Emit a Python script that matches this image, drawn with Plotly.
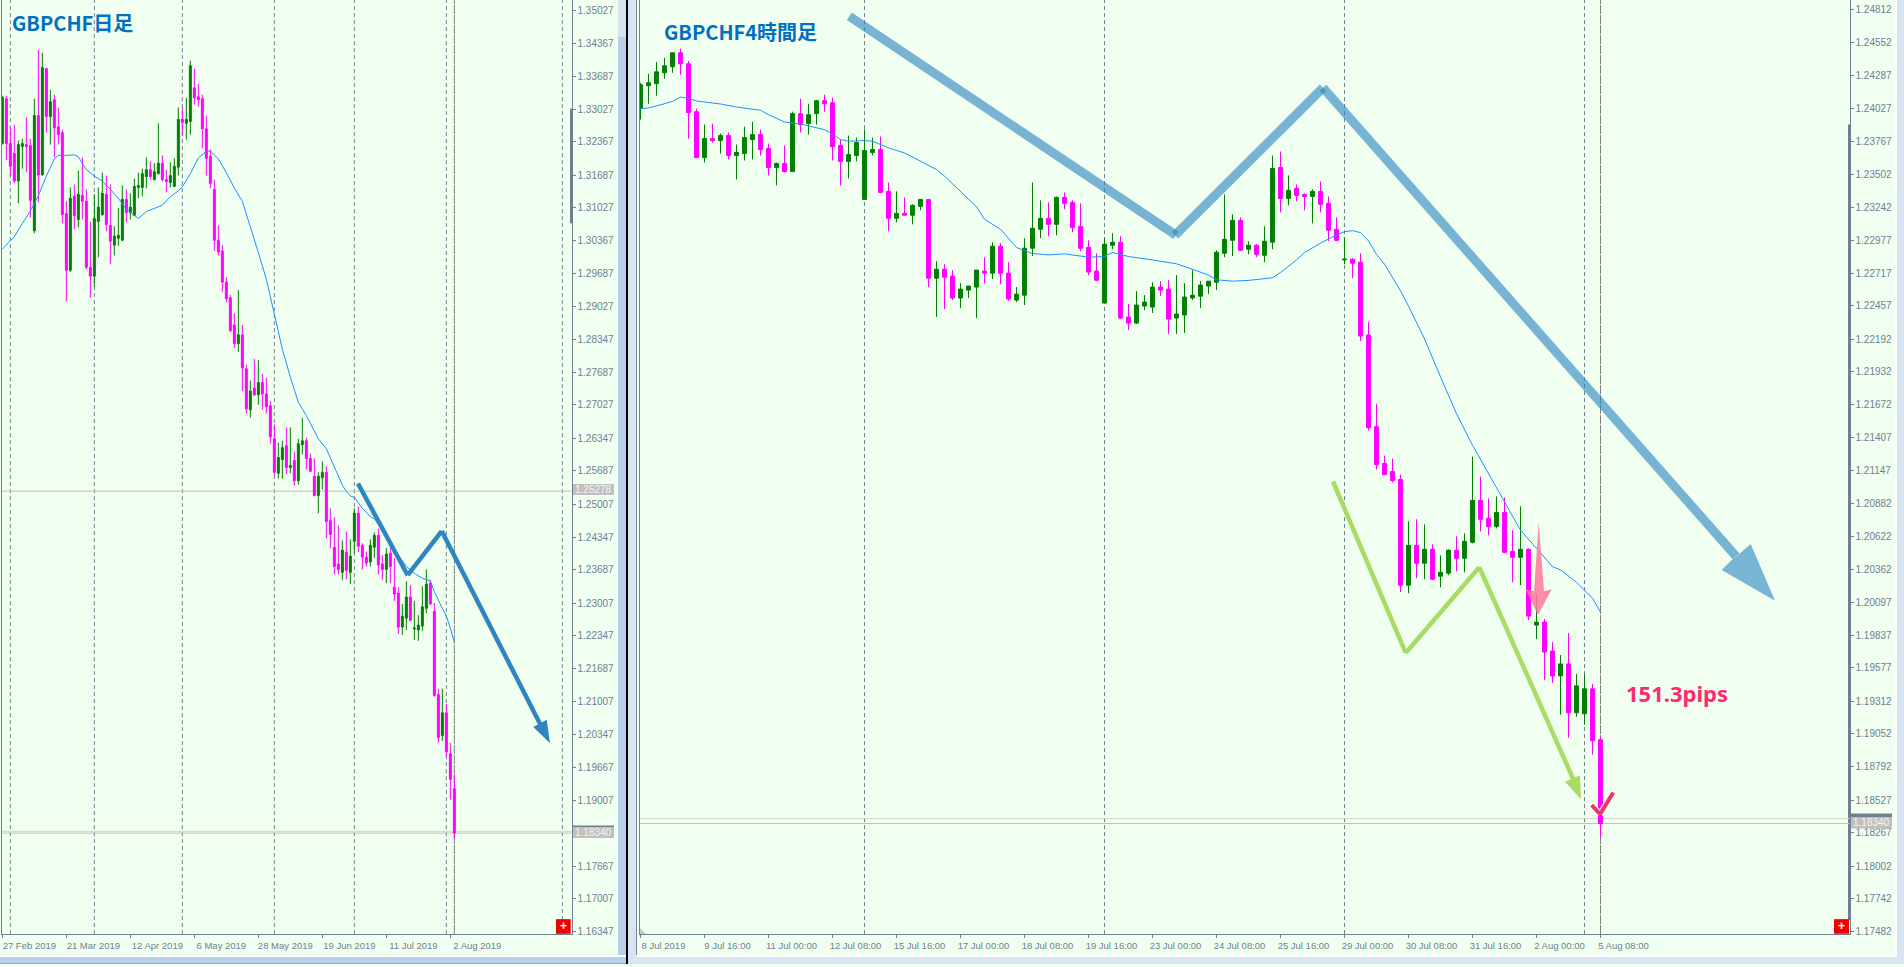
import plotly.graph_objects as go

# ---------- daily GBPCHF ----------
day_labels = ["27 Feb 2019","21 Mar 2019","12 Apr 2019","6 May 2019","28 May 2019","19 Jun 2019","11 Jul 2019","2 Aug 2019"]
day_price_ticks = [1.35027,1.34367,1.33687,1.33027,1.32367,1.31687,1.31027,1.30367,1.29687,1.29027,1.28347,1.27687,1.27027,1.26347,1.25687,1.25007,1.24347,1.23687,1.23007,1.22347,1.21687,1.21007,1.20347,1.19667,1.19007,1.18347,1.17667,1.17007,1.16347]
day_high = [1.3330,1.3330,1.3265,1.3271,1.3239,1.3243,1.3286,1.3243,1.3324,1.3423,
1.3417,1.3387,1.3342,1.3332,1.3306,1.3261,1.3116,1.3144,1.3150,1.3178,
1.3205,1.3140,1.3075,1.3130,1.3144,1.3174,1.3168,1.3150,1.3065,1.3102,
1.3148,1.3140,1.3132,1.3162,1.3174,1.3182,1.3205,1.3197,1.3193,1.3274,
1.3209,1.3180,1.3195,1.3203,1.3306,1.3306,1.3326,1.3401,1.3385,1.3354,
1.3332,1.3290,1.3221,1.3160,1.3067,1.3027,1.2962,1.2926,1.2889,1.2936,
1.2865,1.2784,1.2752,1.2796,1.2794,1.2766,1.2758,1.2711,1.2663,1.2626,
1.2630,1.2657,1.2657,1.2608,1.2634,1.2677,1.2636,1.2604,1.2594,1.2566,
1.2588,1.2578,1.2493,1.2475,1.2458,1.2428,1.2446,1.2430,1.2493,1.2497,
1.2422,1.2405,1.2430,1.2444,1.2452,1.2398,1.2412,1.2412,1.2392,1.2333,
1.2299,1.2345,1.2337,1.2305,1.2276,1.2335,1.2369,1.2347,1.2301,1.2127,
1.2127,1.2096,1.2017,1.1953]
day_low = [1.3231,1.3199,1.3167,1.3153,1.3112,1.3182,1.3175,1.3083,1.3051,1.3114,
1.3167,1.3255,1.3231,1.3205,1.3231,1.3071,1.2913,1.2972,1.3059,1.3063,
1.3079,1.2978,1.2920,1.2942,1.3002,1.3086,1.3055,1.2988,1.3006,1.3025,
1.3035,1.3073,1.3079,1.3086,1.3122,1.3126,1.3142,1.3160,1.3158,1.3170,
1.3156,1.3134,1.3144,1.3145,1.3168,1.3251,1.3241,1.3251,1.3312,1.3308,
1.3223,1.3168,1.3142,1.3015,1.3006,1.2932,1.2911,1.2851,1.2818,1.2810,
1.2731,1.2685,1.2677,1.2721,1.2703,1.2693,1.2685,1.2624,1.2558,1.2553,
1.2553,1.2562,1.2564,1.2539,1.2541,1.2602,1.2572,1.2566,1.2517,1.2483,
1.2531,1.2432,1.2412,1.2359,1.2359,1.2347,1.2349,1.2339,1.2402,1.2404,
1.2369,1.2375,1.2375,1.2392,1.2359,1.2347,1.2341,1.2341,1.2305,1.2238,
1.2236,1.2246,1.2264,1.2226,1.2224,1.2244,1.2280,1.2297,1.2111,1.2017,
1.2021,1.1989,1.1902,1.1823]
day_open = [1.3233,1.3324,1.3233,1.3213,1.3157,1.3227,1.3231,1.3229,1.3056,1.3290,
1.3170,1.3385,1.3288,1.3322,1.3267,1.3255,1.3091,1.2976,1.3126,1.3079,
1.3128,1.3116,1.2982,1.2964,1.3075,1.3089,1.3130,1.3067,1.3027,1.3041,
1.3037,1.3120,1.3093,1.3087,1.3144,1.3144,1.3166,1.3180,1.3160,1.3172,
1.3193,1.3160,1.3154,1.3146,1.3185,1.3282,1.3274,1.3278,1.3346,1.3328,
1.3324,1.3263,1.3207,1.3140,1.3037,1.3015,1.2952,1.2920,1.2865,1.2827,
1.2845,1.2776,1.2693,1.2737,1.2723,1.2748,1.2725,1.2701,1.2634,1.2564,
1.2592,1.2620,1.2576,1.2590,1.2549,1.2622,1.2630,1.2594,1.2558,1.2519,
1.2555,1.2566,1.2468,1.2414,1.2380,1.2363,1.2404,1.2363,1.2426,1.2483,
1.2418,1.2394,1.2384,1.2414,1.2438,1.2380,1.2369,1.2402,1.2333,1.2321,
1.2252,1.2270,1.2313,1.2248,1.2246,1.2254,1.2290,1.2341,1.2284,1.2115,
1.2032,1.2078,1.1995,1.1924]
day_close = [1.3327,1.3233,1.3187,1.3157,1.3231,1.3233,1.3227,1.3118,1.3290,1.3169,
1.3387,1.3288,1.3318,1.3265,1.3251,1.3089,1.2976,1.3122,1.3087,1.3130,
1.3116,1.2982,1.2964,1.3081,1.3104,1.3132,1.3069,1.3035,1.3045,1.3047,
1.3120,1.3093,1.3104,1.3146,1.3148,1.3172,1.3180,1.3166,1.3176,1.3193,
1.3160,1.3156,1.3168,1.3187,1.3282,1.3276,1.3282,1.3391,1.3326,1.3322,
1.3263,1.3203,1.3152,1.3037,1.3013,1.2952,1.2918,1.2853,1.2827,1.2845,
1.2778,1.2695,1.2731,1.2723,1.2748,1.2725,1.2699,1.2638,1.2566,1.2596,
1.2616,1.2576,1.2580,1.2549,1.2624,1.2630,1.2594,1.2568,1.2519,1.2558,
1.2566,1.2466,1.2440,1.2375,1.2369,1.2408,1.2367,1.2396,1.2483,1.2416,
1.2394,1.2382,1.2418,1.2438,1.2378,1.2369,1.2400,1.2375,1.2319,1.2252,
1.2274,1.2313,1.2266,1.2250,1.2256,1.2293,1.2339,1.2299,1.2113,1.2028,
1.2078,1.1999,1.1943,1.1834]
day_ma_bar = [0,3,5,7,9,11,13,14,16,18,19,21,23,25,27,29,31,33,34,36,38,40,42,44,45,47,49,51,52,54,56,58,60,62,64,66,68,70,72,74,76,78,79,81,84,85,86,87,88,90,92,93,95,97,99,101,103,105,107,108,110,111,112,113]
day_ma = [1.3019,1.3044,1.3071,1.3096,1.3127,1.3167,1.3202,1.3209,1.3209,1.3210,1.3206,1.3180,1.3167,1.3157,1.3140,1.3122,1.3100,1.3086,1.3081,1.3095,1.3101,1.3108,1.3125,1.3137,1.3145,1.3172,1.3204,1.3217,1.3218,1.3202,1.3174,1.3143,1.3116,1.3066,1.3012,1.2958,1.2884,1.2816,1.2759,1.2708,1.2681,1.2651,1.2634,1.2614,1.2557,1.2540,1.2527,1.2518,1.2515,1.2493,1.2476,1.2472,1.2449,1.2422,1.2398,1.2375,1.2361,1.2351,1.2346,1.2324,1.2290,1.2274,1.2250,1.2221]
day_period_bars = [2,23,45,68,88,111,140]

# ---------- 4-hour GBPCHF ----------
h4_labels = ["8 Jul 2019","9 Jul 16:00","11 Jul 00:00","12 Jul 08:00","15 Jul 16:00","17 Jul 00:00","18 Jul 08:00","19 Jul 16:00","23 Jul 00:00","24 Jul 08:00","25 Jul 16:00","29 Jul 00:00","30 Jul 08:00","31 Jul 16:00","2 Aug 00:00","5 Aug 08:00"]
h4_price_ticks = [1.24812,1.24552,1.24287,1.24027,1.23767,1.23502,1.23242,1.22977,1.22717,1.22457,1.22192,1.21932,1.21672,1.21407,1.21147,1.20882,1.20622,1.20362,1.20097,1.19837,1.19577,1.19312,1.19052,1.18792,1.18527,1.18267,1.18002,1.17742,1.17482]
h4_high = [1.24231,1.24302,1.24397,1.24429,1.24469,1.24501,1.24405,1.24025,1.23898,1.23906,
1.23827,1.23835,1.23739,1.23882,1.23922,1.23858,1.23747,1.23597,1.23732,1.24001,
1.24104,1.24064,1.24096,1.24136,1.24112,1.23779,1.23811,1.23795,1.23858,1.23795,
1.23803,1.23438,1.23367,1.23319,1.23264,1.23303,1.23303,1.22812,1.22788,1.22741,
1.22637,1.22614,1.22741,1.22844,1.22963,1.22955,1.22804,1.22606,1.22994,1.23438,
1.23296,1.23280,1.23327,1.23359,1.23296,1.23272,1.22978,1.22875,1.23002,1.23034,
1.23010,1.22471,1.22574,1.22542,1.22645,1.22653,1.22661,1.22701,1.22637,1.22741,
1.22653,1.22653,1.22899,1.23343,1.23185,1.23161,1.22971,1.22947,1.23089,1.23652,
1.23684,1.23494,1.23422,1.23351,1.23383,1.23446,1.23327,1.23161,1.23002,1.22836,
1.22875,1.22328,1.21678,1.21266,1.21242,1.21115,1.20743,1.20759,1.20719,1.20560,
1.20473,1.20521,1.20624,1.20648,1.21258,1.21099,1.20925,1.20941,1.20933,1.20671,
1.20862,1.20529,1.20164,1.19966,1.19783,1.19680,1.19855,1.19530,1.19527,1.19450,
1.19030]
h4_low = [1.23938,1.24064,1.24128,1.24263,1.24310,1.24294,1.23787,1.23631,1.23597,1.23755,
1.23668,1.23621,1.23462,1.23613,1.23621,1.23652,1.23494,1.23414,1.23517,1.23520,
1.23835,1.23819,1.23898,1.24001,1.23613,1.23414,1.23470,1.23605,1.23303,1.23652,
1.23351,1.23050,1.23121,1.23175,1.23105,1.23216,1.22606,1.22368,1.22431,1.22503,
1.22439,1.22519,1.22360,1.22637,1.22669,1.22630,1.22495,1.22487,1.22463,1.22852,
1.22994,1.23010,1.23018,1.23224,1.23042,1.22891,1.22701,1.22653,1.22479,1.22907,
1.22352,1.22265,1.22312,1.22423,1.22400,1.22534,1.22233,1.22233,1.22241,1.22503,
1.22439,1.22550,1.22582,1.22844,1.22852,1.22891,1.22867,1.22844,1.22804,1.22907,
1.23200,1.23256,1.23288,1.23216,1.23113,1.23200,1.22971,1.22971,1.22788,1.22677,
1.22178,1.21464,1.21155,1.21115,1.21052,1.20180,1.20172,1.20291,1.20283,1.20275,
1.20219,1.20315,1.20346,1.20338,1.20568,1.20663,1.20632,1.20687,1.20489,1.20259,
1.20235,1.19958,1.19807,1.19482,1.19458,1.19205,1.19022,1.19189,1.19125,1.18888,
1.18230]
h4_open = [1.24025,1.24207,1.24223,1.24310,1.24358,1.24469,1.24382,1.24001,1.23636,1.23787,
1.23771,1.23811,1.23652,1.23668,1.23779,1.23819,1.23708,1.23557,1.23589,1.23525,
1.23985,1.23906,1.23985,1.24088,1.24072,1.23732,1.23605,1.23652,1.23303,1.23676,
1.23700,1.23367,1.23153,1.23192,1.23177,1.23248,1.23303,1.22677,1.22748,1.22693,
1.22519,1.22582,1.22606,1.22733,1.22717,1.22931,1.22717,1.22503,1.22542,1.22915,
1.23066,1.23153,1.23105,1.23319,1.23280,1.23089,1.22923,1.22733,1.22479,1.22939,
1.22963,1.22368,1.22320,1.22455,1.22447,1.22606,1.22590,1.22360,1.22384,1.22519,
1.22534,1.22614,1.22645,1.22875,1.22978,1.23137,1.22907,1.22939,1.22859,1.22963,
1.23557,1.23311,1.23391,1.23343,1.23327,1.23367,1.23272,1.23066,1.22822,1.22828,
1.22804,1.22225,1.21496,1.21203,1.21139,1.21076,1.20235,1.20552,1.20410,1.20521,
1.20307,1.20331,1.20513,1.20449,1.20576,1.20909,1.20767,1.20703,1.20814,1.20505,
1.20457,1.20521,1.19918,1.19942,1.19712,1.19514,1.19609,1.19221,1.19213,1.19411,
1.19006]
h4_close = [1.24215,1.24231,1.24318,1.24366,1.24469,1.24382,1.23993,1.23636,1.23787,1.23771,
1.23811,1.23652,1.23676,1.23795,1.23819,1.23700,1.23557,1.23589,1.23525,1.23985,
1.23898,1.23977,1.24088,1.24064,1.23724,1.23605,1.23660,1.23755,1.23692,1.23700,
1.23359,1.23153,1.23192,1.23177,1.23256,1.23303,1.22677,1.22748,1.22685,1.22519,
1.22590,1.22614,1.22741,1.22717,1.22931,1.22717,1.22511,1.22550,1.22915,1.23074,
1.23153,1.23105,1.23319,1.23272,1.23081,1.22915,1.22725,1.22661,1.22947,1.22963,
1.22360,1.22320,1.22463,1.22487,1.22606,1.22582,1.22352,1.22392,1.22527,1.22542,
1.22622,1.22653,1.22883,1.22986,1.23137,1.22899,1.22939,1.22867,1.22971,1.23549,
1.23311,1.23375,1.23335,1.23327,1.23367,1.23264,1.23058,1.22978,1.22828,1.22796,
1.22217,1.21488,1.21195,1.21115,1.21068,1.20235,1.20552,1.20410,1.20521,1.20283,
1.20338,1.20513,1.20449,1.20584,1.20909,1.20759,1.20703,1.20814,1.20497,1.20457,
1.20521,1.19990,1.19942,1.19704,1.19514,1.19609,1.19221,1.19435,1.19411,1.18999,
1.18340]
h4_ma_bar = [0,1,3,4,5,6,7,10,12,15,16,18,20,23,24,25,26,28,29,31,33,35,37,38,40,42,43,45,47,49,51,53,56,58,59,61,64,67,69,71,72,74,76,79,80,82,83,85,87,88,89,90,91,92,93,94,95,96,98,100,102,104,106,108,110,112,114,115,117,119,120]
h4_ma = [1.24025,1.24030,1.24064,1.24083,1.24117,1.24107,1.24086,1.24062,1.24038,1.24012,1.23977,1.23919,1.23903,1.23858,1.23824,1.23779,1.23766,1.23771,1.23766,1.23713,1.23673,1.23607,1.23541,1.23488,1.23369,1.23245,1.23145,1.23066,1.22920,1.22873,1.22862,1.22870,1.22844,1.22849,1.22881,1.22849,1.22822,1.22791,1.22748,1.22701,1.22664,1.22653,1.22659,1.22680,1.22722,1.22822,1.22881,1.22955,1.23021,1.23047,1.23055,1.23039,1.22973,1.22867,1.22788,1.22682,1.22577,1.22455,1.22194,1.21892,1.21599,1.21348,1.21123,1.20899,1.20674,1.20529,1.20383,1.20357,1.20259,1.20132,1.20021]
h4_period_bars = [28,58,88,118,151]

UP, DOWN, MA_COL = "#037f03", "#ff00ff", "#1e90ff"
AXIS = "#708090"
W, H = 1904, 967
def X(p): return p / W
def Y(p): return 1 - p / H

fig = go.Figure()
def candles(xa, ya, o, h, l, c):
    fig.add_trace(go.Candlestick(x=list(range(len(o))), open=o, high=h, low=l, close=c, xaxis=xa, yaxis=ya,
        increasing=dict(line=dict(color=UP, width=1), fillcolor=UP),
        decreasing=dict(line=dict(color=DOWN, width=1), fillcolor=DOWN), showlegend=False))
candles("x", "y", day_open, day_high, day_low, day_close)
candles("x2", "y2", h4_open, h4_high, h4_low, h4_close)
fig.add_trace(go.Scatter(x=day_ma_bar, y=day_ma, mode="lines", line=dict(color=MA_COL, width=1), xaxis="x", yaxis="y", showlegend=False))
fig.add_trace(go.Scatter(x=h4_ma_bar, y=h4_ma, mode="lines", line=dict(color=MA_COL, width=1), xaxis="x2", yaxis="y2", showlegend=False))

shapes = []
def rect(x0, y0, x1, y1, color, layer="below"):
    shapes.append(dict(type="rect", xref="paper", yref="paper", x0=X(x0), x1=X(x1), y0=Y(y0), y1=Y(y1),
                       fillcolor=color, line=dict(width=0), layer=layer))
def seg(x0, y0, x1, y1, color, width, opacity=1.0):
    shapes.append(dict(type="line", xref="paper", yref="paper", x0=X(x0), x1=X(x1), y0=Y(y0), y1=Y(y1),
                       line=dict(color=color, width=width), opacity=opacity, layer="above"))
def poly(points, color, opacity=1.0):
    path = "M " + " L ".join(f"{X(a):.6f},{Y(b):.6f}" for a, b in points) + " Z"
    shapes.append(dict(type="path", xref="paper", yref="paper", path=path, fillcolor=color,
                       line=dict(width=0), opacity=opacity, layer="above"))

# window chrome
rect(618, 0, 626, 958, "#b8d0ea")
rect(618, 0, 626, 37, "#d8e4f1")
rect(626, 0, 628, 967, "#000000")
rect(628, 0, 636, 967, "#d8e4f1")
rect(636, 0, 637, 958, "#7d8a96")
rect(0, 958, 626, 960, "#ffffff")
rect(0, 960, 626, 966, "#b8d0ea")
rect(0, 966, 626, 967, "#30d0e0")
rect(637, 958, 1897, 960, "#ffffff")
rect(628, 960, 1904, 967, "#d8e4f1")
rect(1895, 0, 1897, 960, "#ffffff")
rect(1897, 0, 1904, 967, "#d8e4f1")

# chart scroll markers and corner marks
rect(570, 109, 573, 224, AXIS)
rect(1848, 125, 1851, 923, AXIS)
poly([(640, 931), (640, 937), (646, 937)], "#c8c8d0")

# period separators
for bar in day_period_bars:
    shapes.append(dict(type="line", xref="x", yref="y domain", x0=bar, x1=bar, y0=0, y1=1, layer="below",
                       line=dict(color=AXIS, width=1, dash="4px,3px")))
for bar in h4_period_bars[:-1]:
    shapes.append(dict(type="line", xref="x2", yref="y2 domain", x0=bar, x1=bar, y0=0, y1=1, layer="below",
                       line=dict(color=AXIS, width=1, dash="4px,3px")))
shapes.append(dict(type="line", xref="x", yref="y domain", x0=113, x1=113, y0=0, y1=1, layer="below",
                   line=dict(color="#808080", width=1, dash="9px,1px")))
shapes.append(dict(type="line", xref="x2", yref="y2 domain", x0=120, x1=120, y0=0, y1=1, layer="below",
                   line=dict(color="#808080", width=1, dash="9px,1px")))

# price lines
for ax, level, col in [("", 1.25278, "#c0c0c0"), ("", 1.18376, "#d3d3d3"), ("", 1.18340, "#c0c0c0"),
                       ("2", 1.18380, "#d3d3d3"), ("2", 1.18340, "#c0c0c0")]:
    shapes.append(dict(type="line", xref=f"x{ax} domain", yref=f"y{ax}", x0=0, x1=1, y0=level, y1=level,
                       layer="below", line=dict(color=col, width=1)))

# daily drawn path
D = "#2e86c1"
seg(358, 485, 407.7, 577, D, 4.5)
seg(407.7, 577, 441.7, 532.7, D, 4.5)
seg(441.7, 532.7, 541, 728, D, 4.5)
poly([(533.3, 729.3), (546.7, 722), (550, 745.5)], D)

# 4-hour large path
L, LOP = "#2e86c1", 0.62
seg(849.3, 16.3, 1176, 236, L, 9, LOP)
seg(1175, 236, 1323, 88, L, 9, LOP)
seg(1323, 88, 1736, 558, L, 9, LOP)
poly([(1775, 602.7), (1721.7, 571.7), (1731.7, 561.7), (1740, 555), (1750.7, 545.7)], L, LOP)

# 4-hour green path
G = "#a8dc64"
seg(1333, 483, 1405.7, 655, G, 4.5)
seg(1405.7, 655, 1479.3, 569, G, 4.5)
seg(1479.3, 569, 1573, 781, G, 4.5)
poly([(1565, 784.3), (1580, 777.7), (1581, 801.7)], G)

# pink down arrow
poly([(1538.7, 524), (1534, 593), (1525.7, 591), (1538, 617), (1551.7, 591), (1544, 593)], "#fb7a9c", 0.85)
# check mark
seg(1591.2, 806.5, 1600, 816.7, "#ffffff", 6)
seg(1600, 816.7, 1613.8, 794.5, "#ffffff", 6)
seg(1591.7, 807.5, 1600, 816.7, "#f0346e", 4)
seg(1600, 816.7, 1613.3, 795, "#f0346e", 4)

# red corner buttons
rect(556, 922, 570.7, 936.7, "#f00000", "above")
rect(1834, 922, 1849, 936.7, "#f00000", "above")

def note(text, px, py, size, color, bold=False, family="Noto Sans CJK JP", anchor="left"):
    fig.add_annotation(text=f"<b>{text}</b>" if bold else text, xref="paper", yref="paper", x=X(px), y=Y(py),
                       xanchor=anchor, yanchor="middle", showarrow=False, font=dict(size=size, color=color, family=family))
note("GBPCHF日足", 10, 23, 20, "#0070c0", True)
note("GBPCHF4時間足", 662, 32, 20, "#0070c0", True)
note("151.3pips", 1624, 695, 22, "#ff2a6d", True, "Noto Sans")
note("+", 563.3, 929, 12, "#ffffff", True, "Liberation Sans", "center")
note("+", 1841.5, 929, 12, "#ffffff", True, "Liberation Sans", "center")

def price_tag(xp, level_py, text):
    rect(xp, level_py - 5.5, xp + 41, level_py + 5.5, "#c0c0c0", "above")
    fig.add_annotation(text=text, xref="paper", yref="paper", x=X(xp + 20.5), y=Y(level_py), xanchor="center",
                       yanchor="middle", showarrow=False, font=dict(size=10, color="#f4f4f4", family="Liberation Sans"))
price_tag(573, 491, "1.25278")
rect(573, 828, 614, 830, AXIS, "above")
price_tag(573, 835, "1.18340")
rect(1851, 816, 1892, 820, AXIS, "above")
price_tag(1851, 825.5, "1.18340")
fig.update_layout(shapes=shapes)

y_font = dict(size=10, color=AXIS, family="Liberation Sans")
x_font = dict(size=9.5, color=AXIS, family="Liberation Sans")
common_x = dict(showgrid=False, zeroline=False, showline=True, linecolor=AXIS, linewidth=1, ticks="outside", ticklen=3,
                tickcolor=AXIS, tickwidth=1, tickfont=x_font, rangeslider=dict(visible=False), tickmode="array", tickangle=0)
common_y = dict(showgrid=False, zeroline=False, showline=True, linecolor=AXIS, linewidth=1, ticks="outside", ticklen=3,
                tickcolor=AXIS, tickwidth=1, tickfont=y_font, side="right", tickmode="array", mirror=True)
fig.update_layout(
    width=W, height=H, margin=dict(l=0, r=0, t=0, b=0), autosize=False,
    paper_bgcolor="#f0fff0", plot_bgcolor="rgba(0,0,0,0)", showlegend=False, hovermode=False,
    xaxis=dict(domain=[X(1.5), X(571.5)], range=[-0.21, 142.29], tickvals=list(range(0, 128, 16)), ticktext=day_labels,
               ticklabelshift=27, anchor="y", **common_x),
    yaxis=dict(domain=[Y(937), 1], range=[1.35243 - 937 / 4944, 1.35243], tickvals=day_price_ticks,
               ticktext=[f"{v:.5f}" for v in day_price_ticks], anchor="x", **common_y),
    xaxis2=dict(domain=[X(639.5), X(1849.5)], range=[-0.125, 151.125], tickvals=list(range(0, 128, 8)), ticktext=h4_labels,
                ticklabelshift=23, anchor="y2", **common_x),
    yaxis2=dict(domain=[Y(937), 1], range=[1.24889 - 937 / 12614, 1.24889], tickvals=h4_price_ticks,
                ticktext=[f"{v:.5f}" for v in h4_price_ticks], anchor="x2", **common_y),
)
fig.write_html("out.html", config={"displayModeBar": False},
               post_script="document.body.style.margin='0';document.documentElement.style.overflow='hidden';")
